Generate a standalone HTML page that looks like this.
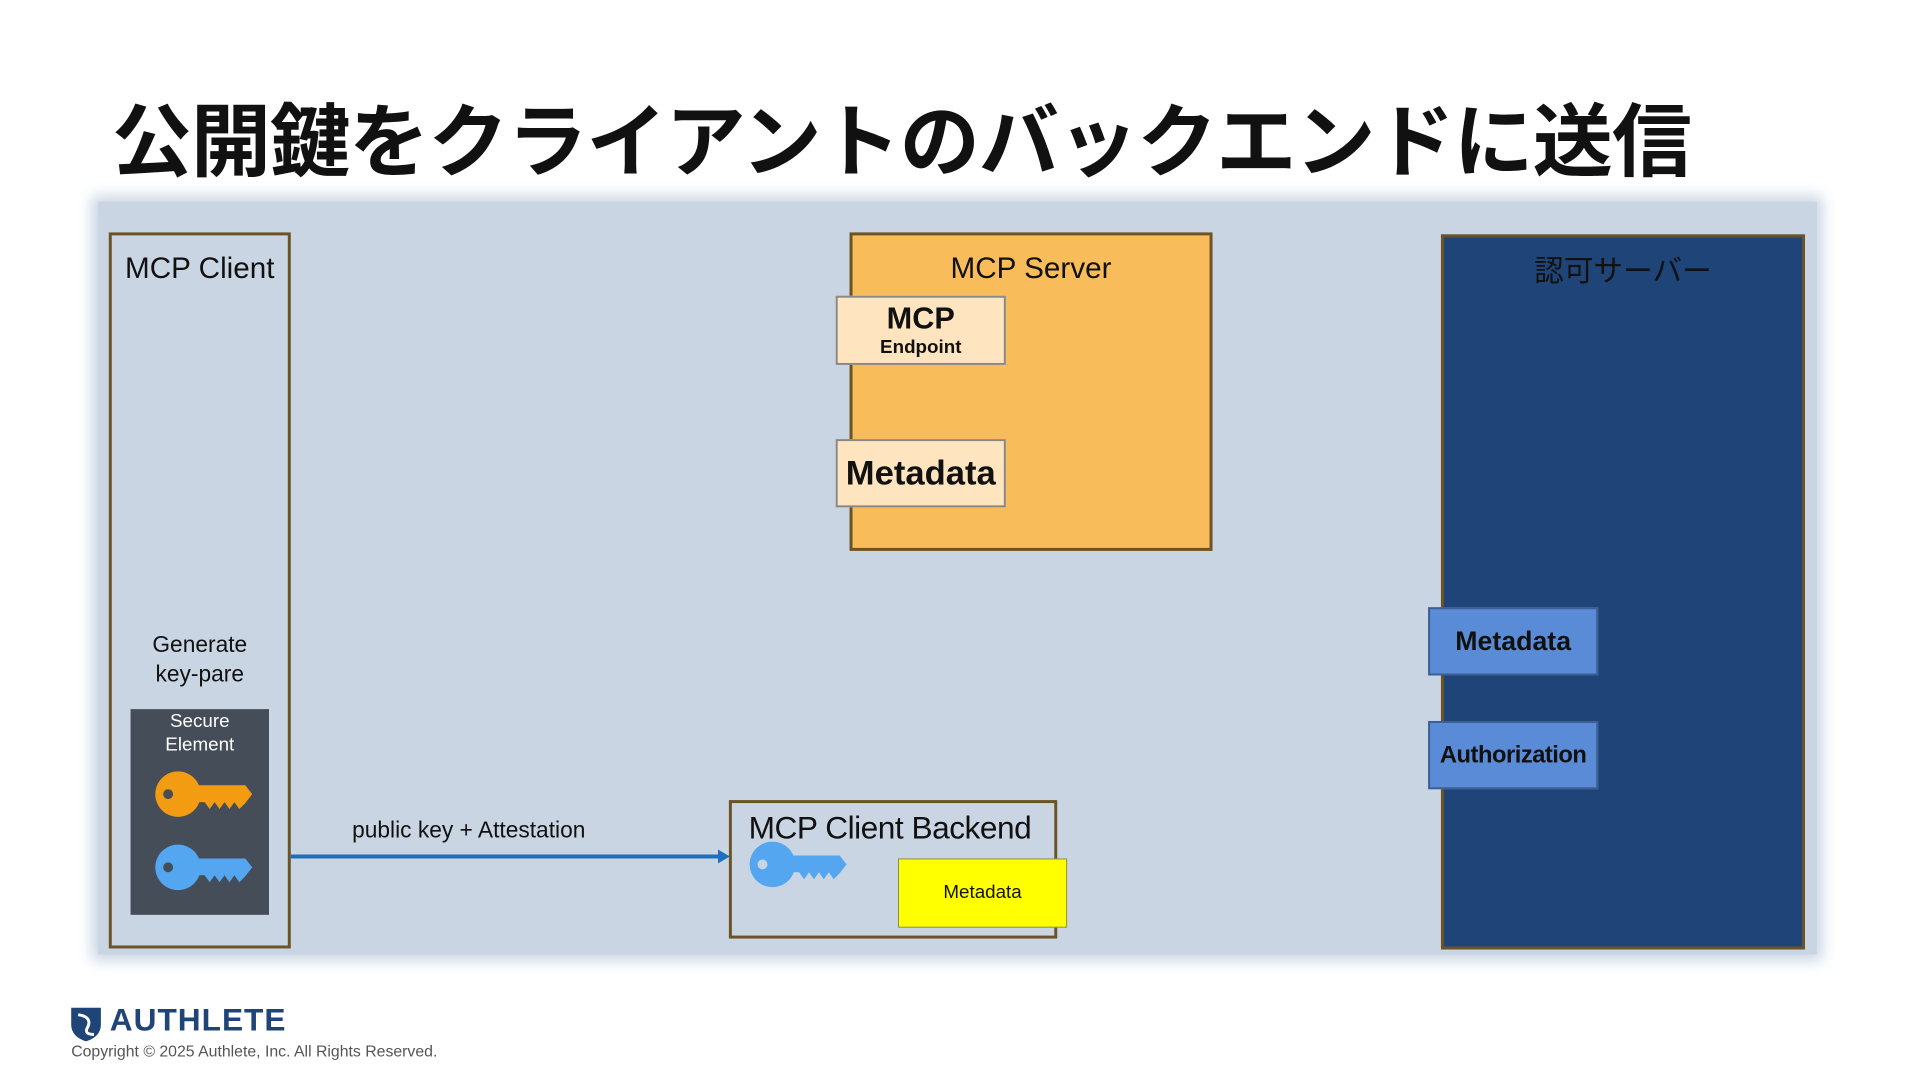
<!DOCTYPE html>
<html><head><meta charset="utf-8"><style>
*{margin:0;padding:0;box-sizing:border-box}
body{width:1920px;height:1080px;background:#fff;position:relative;overflow:hidden;font-family:"Liberation Sans","Noto Sans CJK JP",sans-serif;color:#111}
#w{position:absolute;left:0;top:0;width:1920px;height:1080px;transform:scale(0.989);transform-origin:0 0}
.a{position:absolute}
.c{display:flex;align-items:center;justify-content:center;text-align:center}
</style></head><body><div id="w">
<div class="a" style="left:113px;top:88px;font-size:81px;font-weight:bold;white-space:nowrap;letter-spacing:-1px;font-family:'Noto Sans CJK JP',sans-serif;line-height:100px">公開鍵をクライアントのバックエンドに送信</div>
<div class="a" style="left:99px;top:204px;width:1738px;height:761px;background:#c9d5e3;box-shadow:0 0 14px 6px #c9d5e3"></div>

<div class="a" style="left:110px;top:235px;width:184px;height:724px;border:3px solid #6b5326"></div>
<div class="a c" style="left:110px;top:252px;width:184px;height:40px;font-size:30px">MCP Client</div>
<div class="a c" style="left:110px;top:634px;width:184px;height:64px;font-size:23px;line-height:30px">Generate<br>key-pare</div>
<div class="a" style="left:132px;top:717px;width:140px;height:208px;background:#454d59"></div>
<div class="a c" style="left:132px;top:717px;width:140px;height:50px;font-size:19px;line-height:24px;color:#fff">Secure<br>Element</div>

<svg class="a" style="left:0;top:0" width="1920" height="1080">
<defs>
<g id="k"><circle cx="24" cy="23" r="23"/><path d="M30 14 H92 L99 23 L92 32 L86 38 L81 31 L76 38 L71 31 L66 38 L61 31 L56 38 L51 31 H30 Z"/><circle cx="14" cy="23" r="5" fill="#454d59"/></g>
</defs>
<use href="#k" x="156" y="780" fill="#f39c12"/>
<use href="#k" x="156" y="854" fill="#55a6f0"/>
<line x1="294" y1="866" x2="728" y2="866" stroke="#1f6fbf" stroke-width="4"/>
<polygon points="726,859 738,866 726,873" fill="#1f6fbf"/>
</svg>
<div class="a" style="left:356px;top:826px;font-size:23px;white-space:nowrap">public key + Attestation</div>

<div class="a" style="left:737px;top:809px;width:332px;height:140px;border:3px solid #6b5326"></div>
<div class="a" style="left:757px;top:819px;font-size:32px;white-space:nowrap;letter-spacing:-0.5px">MCP Client Backend</div>
<svg class="a" style="left:757px;top:851px" width="100" height="48"><g fill="#55a6f0"><circle cx="24" cy="23" r="23"/><path d="M30 14 H92 L99 23 L92 32 L86 38 L81 31 L76 38 L71 31 L66 38 L61 31 L56 38 L51 31 H30 Z"/></g><circle cx="14" cy="23" r="5" fill="#c9d5e3"/></svg>
<div class="a c" style="left:908px;top:868px;width:171px;height:70px;background:#ffff00;border:1px solid #8a8a50;font-size:19px">Metadata</div>

<div class="a" style="left:859px;top:235px;width:367px;height:322px;background:#f9bc5a;border:3px solid #6b5326"></div>
<div class="a c" style="left:859px;top:252px;width:367px;height:40px;font-size:30px">MCP Server</div>
<div class="a" style="left:845px;top:299px;width:172px;height:70px;background:#fee4bf;border:2px solid #888;text-align:center;font-weight:bold"><div style="font-size:31px;line-height:38px;margin-top:2px">MCP</div><div style="font-size:19px;line-height:22px">Endpoint</div></div>
<div class="a c" style="left:845px;top:444px;width:172px;height:69px;background:#fee4bf;border:2px solid #888;font-size:35px;font-weight:bold">Metadata</div>

<div class="a" style="left:1457px;top:237px;width:368px;height:723px;background:#1f4478;border:3px solid #6b5326"></div>
<div class="a c" style="left:1457px;top:250px;width:368px;height:42px;font-size:30px;font-family:'Noto Sans CJK JP',sans-serif">認可サーバー</div>
<div class="a c" style="left:1444px;top:614px;width:172px;height:69px;background:#5a8bd6;border:2px solid #3d5f94;font-size:27px;font-weight:bold">Metadata</div>
<div class="a c" style="left:1444px;top:729px;width:172px;height:69px;background:#5a8bd6;border:2px solid #3d5f94;font-size:24px;font-weight:bold;letter-spacing:-0.5px">Authorization</div>

<svg class="a" style="left:69px;top:1016px" width="36" height="38"><path d="M3 3 H33 V20 Q33 32 18 37 Q3 32 3 20 Z" fill="#1f4478"/><path d="M10 10 Q24 12 20 22 Q15 30 26 30" stroke="#fff" stroke-width="3" fill="none"/></svg>
<div class="a" style="left:111px;top:1013px;font-size:32px;font-weight:bold;color:#1f4478;letter-spacing:1px">AUTHLETE</div>
<div class="a" style="left:72px;top:1055px;font-size:16px;color:#555;white-space:nowrap">Copyright © 2025 Authlete, Inc. All Rights Reserved.</div>
</div></body></html>
